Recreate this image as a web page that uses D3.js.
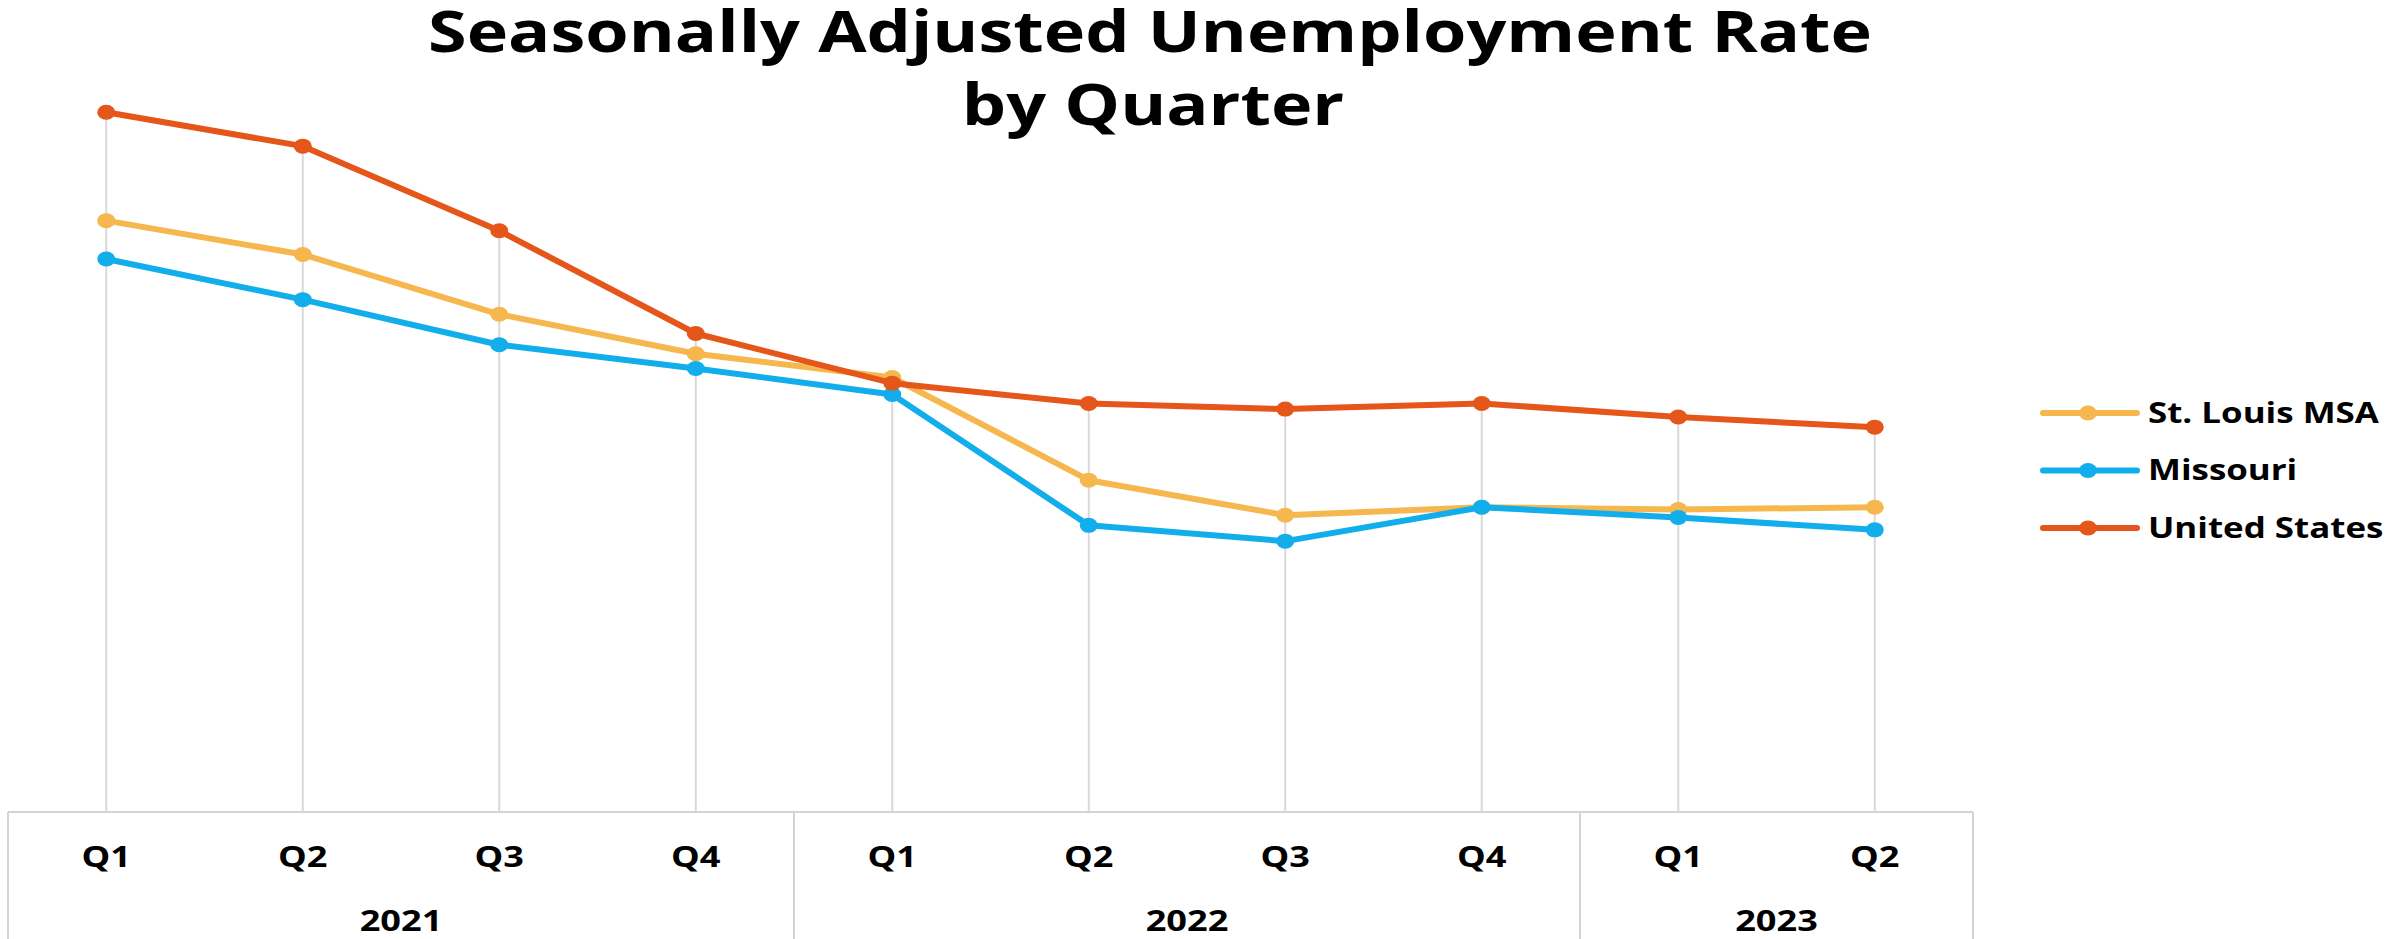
<!DOCTYPE html>
<html>
<head>
<meta charset="utf-8">
<script src="https://cdn.jsdelivr.net/npm/d3@7"></script>
<style>
    html, body { margin: 0; padding: 0; background: #fff; }
    svg { display: block; }
    text { font-family: "Open Sans", "Noto Sans", sans-serif; font-weight: 700; fill: #000; }
</style>
</head>
<body>
<div id="chart"></div>
<script>
var quarters = ['Q1', 'Q2', 'Q3', 'Q4', 'Q1', 'Q2', 'Q3', 'Q4', 'Q1', 'Q2'];
var years = ['2021', '2022', '2023'];
var yearSpans = [4, 4, 2];

var stLouis = [5.24, 4.94, 4.41, 4.06, 3.85, 2.94, 2.63, 2.70, 2.68, 2.70];
var missouri = [4.90, 4.54, 4.14, 3.93, 3.70, 2.54, 2.40, 2.70, 2.61, 2.50];
var unitedStates = [6.20, 5.90, 5.15, 4.24, 3.80, 3.62, 3.57, 3.62, 3.50, 3.41];

var seriesNames = ['St. Louis MSA', 'Missouri', 'United States'];
var seriesColors = ['#F5B74E', '#12AEEB', '#E4561A'];

var titleLines = ['Seasonally Adjusted Unemployment Rate', 'by Quarter'];

var width = 2402,
    height = 939;

var svg = d3.select('#chart').append('svg')
    .attr('width', width)
    .attr('height', height);

svg.append('rect')
    .attr('width', width)
    .attr('height', height)
    .attr('fill', '#fff');

// category index keys, labels repeat so use index
var keys = quarters.map(function(q, i) { return i; });

var x = d3.scaleBand()
    .domain(keys)
    .range([8, 1973])
    .padding(0);

var y = d3.scaleLinear()
    .domain([0, 7])
    .range([812, 22]);

function cx(i) {
    return x(i) + x.bandwidth() / 2;
}

// stretch text horizontally to a target width
function stretchTo(sel, target) {
    var w = sel.node().getComputedTextLength();
    return target / w;
}

var series = [stLouis, missouri, unitedStates].map(function(values, s) {
    return { name: seriesNames[s], color: seriesColors[s], values: values };
});

// drop lines
svg.append('g')
    .selectAll('line')
    .data(keys)
    .enter().append('line')
    .attr('x1', cx)
    .attr('x2', cx)
    .attr('y1', function(i) {
        return y(d3.max(series, function(s) { return s.values[i]; }));
    })
    .attr('y2', y(0))
    .attr('stroke', '#d9d9d9')
    .attr('stroke-width', 2);

// category axis box
var axis = svg.append('g').attr('stroke', '#d4d4d4').attr('stroke-width', 2).attr('fill', 'none');

axis.append('line')
    .attr('x1', x.range()[0]).attr('x2', x.range()[1])
    .attr('y1', y(0)).attr('y2', y(0));

var bounds = [0];
yearSpans.forEach(function(n, i) { bounds.push(bounds[i] + n); });

axis.selectAll('line.sep')
    .data(bounds)
    .enter().append('line')
    .attr('class', 'sep')
    .attr('x1', function(b) { return x.range()[0] + b * x.bandwidth(); })
    .attr('x2', function(b) { return x.range()[0] + b * x.bandwidth(); })
    .attr('y1', y(0))
    .attr('y2', height);

var line = d3.line()
    .x(function(d, i) { return cx(i); })
    .y(function(d) { return y(d); });

var lines = svg.append('g');

series.forEach(function(s) {
    var g = lines.append('g');
    g.append('path')
        .datum(s.values)
        .attr('d', line)
        .attr('fill', 'none')
        .attr('stroke', s.color)
        .attr('stroke-width', 6)
        .attr('stroke-linejoin', 'round');
    g.selectAll('ellipse')
        .data(s.values)
        .enter().append('ellipse')
        .attr('cx', function(d, i) { return cx(i); })
        .attr('cy', function(d) { return y(d); })
        .attr('rx', 9)
        .attr('ry', 7.5)
        .attr('fill', s.color);
});

// title
var title = svg.append('g');
var t1 = title.append('text')
    .attr('text-anchor', 'middle')
    .style('font-size', '57px')
    .text(titleLines[0]);
var k1 = stretchTo(t1, 1444);
t1.attr('transform', 'translate(1150,52) scale(' + k1 + ',1)');

var t2 = title.append('text')
    .attr('text-anchor', 'middle')
    .style('font-size', '57px')
    .text(titleLines[1]);
t2.attr('transform', 'translate(1153,125) scale(' + k1 + ',1)');

// legend
var legend = svg.append('g');
var rows = legend.selectAll('g')
    .data(series)
    .enter().append('g')
    .attr('transform', function(d, i) { return 'translate(0,' + (413 + i * 57.5) + ')'; });

rows.append('line')
    .attr('x1', 2043).attr('x2', 2137)
    .attr('stroke', function(d) { return d.color; })
    .attr('stroke-width', 6)
    .attr('stroke-linecap', 'round');

rows.append('ellipse')
    .attr('cx', 2088)
    .attr('rx', 9)
    .attr('ry', 7.5)
    .attr('fill', function(d) { return d.color; });

var legendText = rows.append('text')
    .style('font-size', '28px')
    .attr('dy', '0.35em')
    .text(function(d) { return d.name; });

var kl = stretchTo(legendText.filter(function(d, i) { return i === 0; }), 231);
legendText.attr('transform', 'translate(2148,0) scale(' + kl + ',1)');

// quarter labels
svg.append('g')
    .selectAll('text')
    .data(keys)
    .enter().append('text')
    .attr('text-anchor', 'middle')
    .style('font-size', '29px')
    .attr('transform', function(i) { return 'translate(' + cx(i) + ',867) scale(' + kl + ',1)'; })
    .text(function(i) { return quarters[i]; });

// year labels
svg.append('g')
    .selectAll('text')
    .data(years)
    .enter().append('text')
    .attr('text-anchor', 'middle')
    .style('font-size', '29px')
    .attr('transform', function(d, i) {
        var mid = x.range()[0] + (bounds[i] + bounds[i + 1]) / 2 * x.bandwidth();
        return 'translate(' + mid + ',931) scale(' + kl + ',1)';
    })
    .text(function(d) { return d; });
</script>
</body>
</html>
